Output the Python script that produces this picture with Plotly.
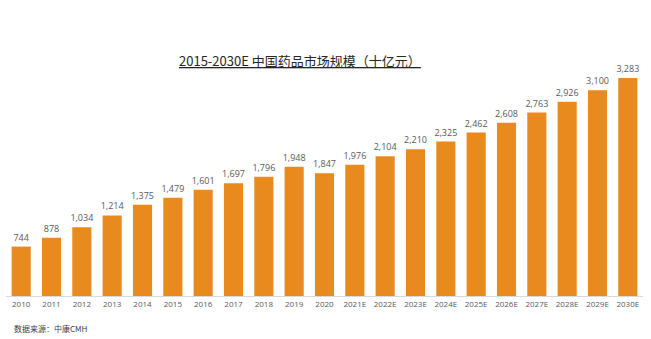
import plotly.graph_objects as go

years = ["2010", "2011", "2012", "2013", "2014", "2015", "2016", "2017", "2018", "2019", "2020",
         "2021E", "2022E", "2023E", "2024E", "2025E", "2026E", "2027E", "2028E", "2029E", "2030E"]
values = [744, 878, 1034, 1214, 1375, 1479, 1601, 1697, 1796, 1948, 1847,
          1976, 2104, 2210, 2325, 2462, 2608, 2763, 2926, 3100, 3283]
labels = [f"{v:,}" for v in values]

fig = go.Figure(go.Bar(
    x=years, y=values, text=labels, textposition="outside", constraintext="none",
    textfont=dict(size=9, color="#595959", family="Open Sans"),
    marker=dict(color="#E98A1E", line=dict(width=0)),
    width=0.63, cliponaxis=False,
))

fig.update_layout(
    width=651, height=339,
    margin=dict(l=6, r=8, t=40, b=43),
    paper_bgcolor="white", plot_bgcolor="white",
    showlegend=False,
    xaxis=dict(type="category", showgrid=False, showline=True, linecolor="#D9D9D9", linewidth=1,
               ticks="", tickfont=dict(size=8, color="#595959", family="Open Sans"),
               range=[-0.5, 20.5]),
    yaxis=dict(visible=False, range=[0, 3855]),
    annotations=[
        dict(text="<u>2015-2030E 中国药品市场规模（十亿元）</u>", xref="paper", yref="paper",
             x=(300 - 6) / 637, y=(339 - 43 - 60) / 256, xanchor="center", yanchor="middle",
             showarrow=False, font=dict(size=13, color="#262626", family="Noto Sans CJK SC")),
        dict(text="数据来源：中康CMH", xref="paper", yref="paper",
             x=(12 - 6) / 637, y=-(328 - 296) / 256, xanchor="left", yanchor="middle",
             showarrow=False, font=dict(size=8, color="#404040", family="Noto Sans CJK SC")),
    ],
)

fig.write_html("out.html")
